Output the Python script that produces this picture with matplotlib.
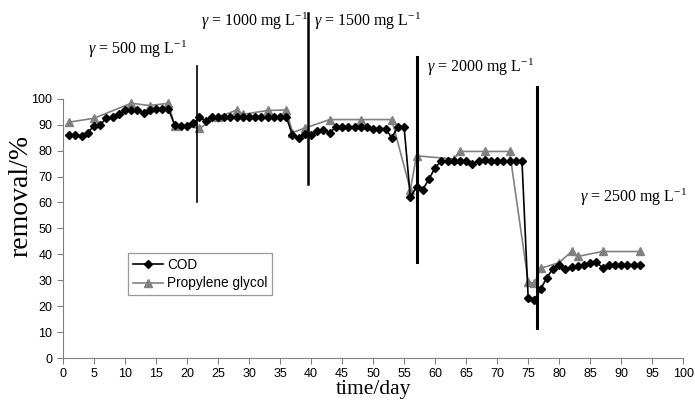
import matplotlib
matplotlib.use('Agg')
import matplotlib.pyplot as plt

plt.rcParams['font.family'] = 'Liberation Sans'
plt.rcParams['mathtext.fontset'] = 'custom'
plt.rcParams['mathtext.rm'] = 'Liberation Serif'
plt.rcParams['mathtext.it'] = 'Liberation Serif:italic'

# COD removal, one point per day
cod_days = list(range(1, 94))
cod_vals = [86, 86, 85.5, 87, 89.5, 90, 92.5, 93, 94, 95.5,
            95.5, 95.5, 94.5, 95.5, 96, 96, 96, 90, 89.5, 89.5,
            90.5, 93, 91.5, 93, 93, 93, 93, 93, 93, 93,
            93, 93, 93, 93, 93, 93, 86, 85, 86.5, 86,
            87.5, 88, 87, 89, 89, 89, 89, 89, 89, 88.5,
            88.5, 88.5, 85, 89, 89, 62, 66, 65, 69, 73.5,
            76, 76, 76, 76, 76, 75, 76, 76.5, 76, 76,
            76, 76, 76, 76, 23, 22.5, 26.5, 31, 34.5, 36,
            34.5, 35, 35.5, 36, 36.5, 37, 34.8, 36, 36, 36,
            36, 36, 36]

# propylene glycol removal
pg_days = [1, 5, 11, 14, 17, 18, 22, 25, 28, 29, 33, 36, 37, 39, 43, 48, 53,
           56, 57, 63, 64, 68, 72, 75, 76, 77, 80, 82, 83, 87, 93]
pg_vals = [91, 92.5, 98.3, 97.4, 98.3, 89.7, 88.7, 92.8, 95.7, 94, 95.5, 95.7,
           87, 88.7, 92, 92, 92, 65, 78, 76.8, 79.7, 79.7, 79.7, 29.5, 28.8,
           34.6, 36.8, 41.1, 39.2, 41.1, 41.1]

# concentration changes (vertical bars)
step_days = [21.6, 39.5, 57.1, 76.5]
step_low = [60, 67, 37, 11.5]
step_high = [112.5, 133, 116, 104.5]
step_width = [1.2, 1.8, 2.2, 2.2]

labels = ['500', '1000', '1500', '2000', '2500']
label_pos = [(4, 119), (22.3, 130), (40.4, 130), (58.7, 112), (83.3, 62)]

fig = plt.figure(figsize=(6.95, 4.05), dpi=100)
ax = fig.add_axes([0.0906, 0.116, 0.8925, 0.64])

ax.plot(cod_days, cod_vals, color='black', lw=1.2, marker='D', ms=4,
        label='COD', zorder=3)
ax.plot(pg_days, pg_vals, color='#808080', lw=1.2, marker='^', ms=6,
        label='Propylene glycol', zorder=2)

for d, lo, hi, w in zip(step_days, step_low, step_high, step_width):
    ax.plot([d, d], [lo, hi], color='black', lw=w, clip_on=False, zorder=4)

for lab, (x, y) in zip(labels, label_pos):
    ax.text(x, y, r'$\gamma$ = ' + lab + r' mg L$^{-1}$', fontsize=11.5,
            family='Liberation Serif', ha='left', va='center', clip_on=False)

ax.set_xlim(0, 100)
ax.set_ylim(0, 100)
ax.set_xticks(range(0, 101, 5))
ax.set_yticks(range(0, 101, 10))
ax.tick_params(labelsize=9, color='#808080', length=4, width=0.8)
for s in ['top', 'right']:
    ax.spines[s].set_visible(False)
for s in ['left', 'bottom']:
    ax.spines[s].set_color('#808080')
    ax.spines[s].set_linewidth(0.8)

ax.set_xlabel('time/day', family='Liberation Serif', fontsize=15.5, labelpad=0)
# y label sits above the axis centre in the original
ax.text(-0.068, 0.625, 'removal/%', family='Liberation Serif', fontsize=20,
        rotation=90, ha='center', va='center', transform=ax.transAxes)

leg = ax.legend(loc='lower left', bbox_to_anchor=(0.105, 0.243), borderaxespad=0,
                fancybox=False, edgecolor='#808080', fontsize=9.8,
                handlelength=2.2, handletextpad=0.3, borderpad=0.35, labelspacing=0.3)
leg.get_frame().set_linewidth(0.9)

fig.savefig('out.png', dpi=100)
